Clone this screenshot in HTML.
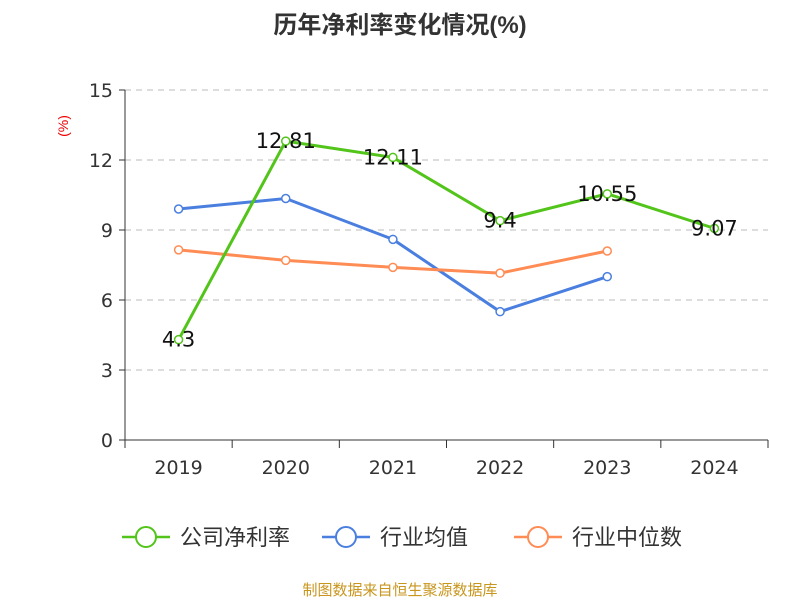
<!DOCTYPE html>
<html><head><meta charset="utf-8"><style>
body{margin:0;background:#fff;width:800px;height:600px;overflow:hidden;font-family:"Liberation Sans","Noto Sans CJK SC",sans-serif}
</style></head><body>
<svg id="c" width="800" height="600" xmlns="http://www.w3.org/2000/svg"></svg>
<script>
const categories=["2019","2020","2021","2022","2023","2024"];
const companyValues=[4.3,12.81,12.11,9.4,10.55,9.07];
const industryAvg=[9.9,10.35,8.6,5.5,7.0];
const industryMedian=[8.15,7.7,7.4,7.15,8.1];
const yTicks=[0,3,6,9,12,15];
const seriesNames=["公司净利率","行业均值","行业中位数"];
const colors=["#52c41a","#4a7fe0","#ff8c55"];

const svg=document.getElementById('c');
const NS="http://www.w3.org/2000/svg";
const L=125,R=768,T=90,B=440,yMax=15;
const band=(R-L)/categories.length;
const x=i=>L+band*(i+0.5);
const y=v=>B-(v/yMax)*(B-T);
function mk(tag,attrs,parent){const e=document.createElementNS(NS,tag);for(const k in attrs)e.setAttribute(k,attrs[k]);(parent||svg).appendChild(e);return e;}
function txt(s,attrs,parent){const e=mk('text',attrs,parent);e.textContent=s;return e;}
const NUMF='"DejaVu Sans","Liberation Sans",sans-serif';

const title=txt("历年净利率变化情况(%)",{x:400,y:33,'text-anchor':'middle','font-size':24,'font-weight':'bold',fill:'#333'});


const unit=txt("(%)",{x:68,y:126,'text-anchor':'middle','font-size':14,fill:'#e00',transform:'rotate(-90 68 126)'});



yTicks.forEach(t=>{
  if(t>0){const g=mk('line',{x1:L,x2:R,y1:y(t),y2:y(t),stroke:'#bbb','stroke-dasharray':'6,5'});
  
  }
  mk('line',{x1:L-6,x2:L,y1:y(t),y2:y(t),stroke:'#333'});
  const lb=txt(String(t),{x:L-12,y:y(t)+7,'text-anchor':'end','font-size':19,fill:'#333','font-family':NUMF});
  
  
});
mk('line',{x1:L,x2:L,y1:T,y2:B,stroke:'#333'});
mk('line',{x1:L,x2:R,y1:B,y2:B,stroke:'#333'});
for(let i=0;i<=categories.length;i++)mk('line',{x1:L+band*i,x2:L+band*i,y1:B,y2:B+8,stroke:'#333'});
categories.forEach((c,i)=>{
  const lb=txt(c,{x:x(i),y:474,'text-anchor':'middle','font-size':19,fill:'#333','font-family':NUMF});
  
  
});

function series(vals,color,name,labels){
  const g=mk('g',{});
  
  
  mk('polyline',{points:vals.map((v,i)=>x(i)+','+y(v)).join(' '),fill:'none',stroke:color,'stroke-width':3},g);
  vals.forEach((v,i)=>{
    const p=mk('circle',{cx:x(i),cy:y(v),r:4,fill:'#fff',stroke:color,'stroke-width':1.5},g);
    
    
    if(labels){const t=txt(String(v),{x:x(i),y:y(v)+7,'text-anchor':'middle','font-size':21,fill:'#111','font-family':NUMF},g);
      
      }
  });
}
series(industryAvg,colors[1],'industry-average-line',false);
series(industryMedian,colors[2],'industry-median-line',false);
series(companyValues,colors[0],'company-net-margin-line',true);

const lx=[122,322,514];
seriesNames.forEach((n,i)=>{
  const g=mk('g',{});
  
  
  mk('line',{x1:lx[i],x2:lx[i]+48,y1:537,y2:537,stroke:colors[i],'stroke-width':2.5},g);
  mk('circle',{cx:lx[i]+24,cy:537,r:10,fill:'#fff',stroke:colors[i],'stroke-width':2},g);
  txt(n,{x:lx[i]+58,y:545,'font-size':22,fill:'#333'},g);
});
const src=txt("制图数据来自恒生聚源数据库",{x:400,y:595,'text-anchor':'middle','font-size':15,fill:'#c8961e'});


</script>
</body></html>
